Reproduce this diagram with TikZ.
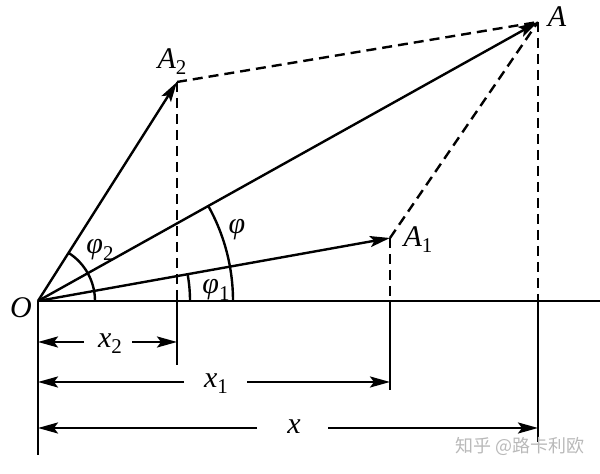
\documentclass[tikz,border=0pt]{standalone}
\usepackage{fontspec}
\setmainfont{Liberation Serif}
\newfontfamily\cjk{Noto Sans CJK SC}
\usetikzlibrary{arrows.meta}
\newcommand\subsc[1]{\raisebox{-0.45ex}{\fontsize{10.5}{12}\selectfont\upshape #1}}
\begin{document}
\begin{tikzpicture}[x=0.5pt,y=0.5pt,
  vec/.style={line width=1.2pt,-{Stealth[length=10pt,width=5.5pt,inset=2pt]}},
  dsh/.style={line width=1.2pt,dash pattern=on 5pt off 3pt},
  sol/.style={line width=1.2pt},
  dim/.style={line width=1.2pt,-{Stealth[length=10pt,width=5.5pt,inset=2pt]}},
  lbl/.style={font=\fontsize{15}{18}\selectfont\itshape, inner sep=0pt}]
\useasboundingbox (0,0) rectangle (600,474);
% points
\coordinate (O) at (38,173);
\coordinate (A2) at (177,392);
\coordinate (A1) at (390,236);
\coordinate (A) at (538,452);
\coordinate (P2) at (177,173);
\coordinate (P1) at (390,173);
\coordinate (P) at (538,173);
\coordinate (axE) at (600,173);
\coordinate (Ob) at (38,19);
\coordinate (P2b) at (177,109);
\coordinate (P1b) at (390,84);
\coordinate (Pb) at (538,32);
% axis and extension lines
\draw[sol] (O) -- (axE);
\draw[sol] (O) -- (Ob);
\draw[sol] (P2) -- (P2b);
\draw[sol] (P1) -- (P1b);
\draw[sol] (P) -- (Pb);
% dashed
\draw[dsh] (A2) -- (A);
\draw[dsh] (A1) -- (A);
\draw[dsh] (A2) -- (P2);
\draw[dsh] (A1) -- (P1);
\draw[dsh] (A) -- (P);
% vectors
\draw[vec] (O) -- (A2);
\draw[vec] (O) -- (A1);
\draw[vec] (O) -- (A);
% angle arcs
\draw[sol] (O) ++(0:28.5pt) arc[start angle=0,end angle=57.6,radius=28.5pt];
\draw[sol] (O) ++(0:76pt) arc[start angle=0,end angle=10.15,radius=76pt];
\draw[sol] (O) ++(0:97.5pt) arc[start angle=0,end angle=29.16,radius=97.5pt];
% point labels
\node[lbl] (lO) at (21,166) {O};
\node[lbl] (lA) at (557,457) {A};
\node[lbl] (lA2) at (172,412) {A\subsc{2}};
\node[lbl] (lA1) at (418,234) {A\subsc{1}};
\node[lbl] (lp2) at (100,224) {φ\subsc{2}};
\node[lbl] (lp1) at (216,184) {φ\subsc{1}};
\node[lbl] (lp) at (237,244) {φ};
% dimensions
\coordinate (d2L) at (38,132);
\coordinate (d2R) at (177,132);
\coordinate (d2a) at (84,132);
\coordinate (d2b) at (132,132);
\node[lbl] (lx2) at (110,130) {x\subsc{2}};
\draw[dim] (d2a) -- (d2L);
\draw[dim] (d2b) -- (d2R);
\coordinate (d1L) at (38,92);
\coordinate (d1R) at (390,92);
\coordinate (d1a) at (184,92);
\coordinate (d1b) at (247,92);
\node[lbl] (lx1) at (216,90) {x\subsc{1}};
\draw[dim] (d1a) -- (d1L);
\draw[dim] (d1b) -- (d1R);
\coordinate (dL) at (38,46);
\coordinate (dR) at (538,46);
\coordinate (da) at (257,46);
\coordinate (db) at (328,46);
\node[lbl] (lx) at (294,47) {x};
\draw[dim] (da) -- (dL);
\draw[dim] (db) -- (dR);
% watermark
\node[font=\cjk\fontsize{9}{11}\selectfont, text=gray!55, inner sep=0pt] (wm) at (520,28) {知乎 @路卡利欧};
\end{tikzpicture}
\end{document}
